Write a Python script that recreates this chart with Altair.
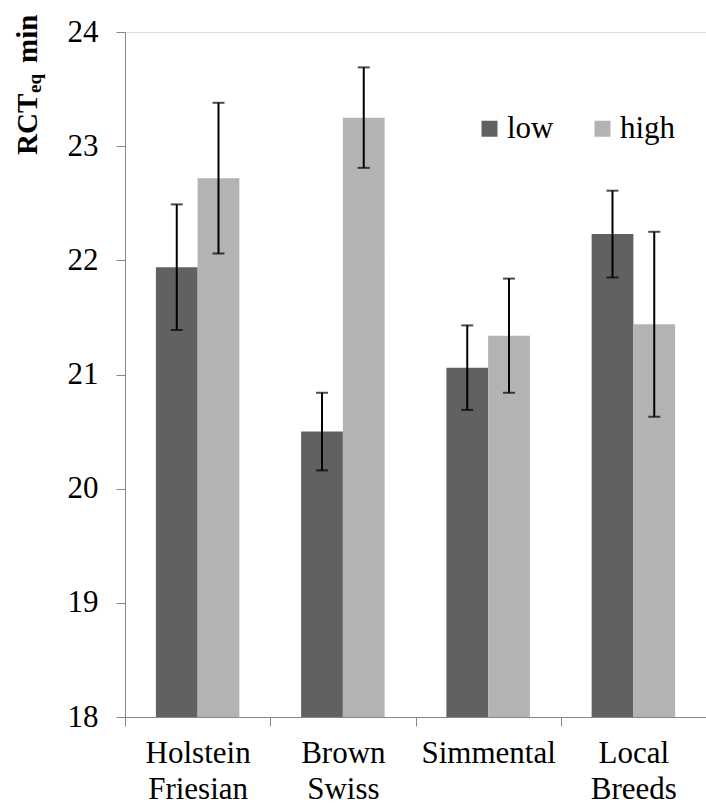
import altair as alt
import pandas as pd

breeds = ["Holstein Friesian", "Brown Swiss", "Simmental", "Local Breeds"]
groups = ["low", "high"]
low_mean = [21.94, 20.50, 21.06, 22.23]
low_lower = [21.39, 20.16, 20.69, 21.85]
low_upper = [22.49, 20.84, 21.43, 22.61]
high_mean = [22.72, 23.25, 21.34, 21.44]
high_lower = [22.06, 22.81, 20.84, 20.63]
high_upper = [23.38, 23.69, 21.84, 22.25]
y_ticks = [18, 19, 20, 21, 22, 23, 24]
colors = ["#616161", "#b3b3b3"]

rows = []
for i, b in enumerate(breeds):
    rows.append(dict(breed=b, group="low", mean=low_mean[i], lower=low_lower[i], upper=low_upper[i]))
    rows.append(dict(breed=b, group="high", mean=high_mean[i], lower=high_lower[i], upper=high_upper[i]))
df = pd.DataFrame(rows)

FONT = "Liberation Serif, DejaVu Serif"
AXIS_GRAY = "#878787"

x_axis = alt.Axis(
    title=None, labelAngle=0, labelExpr="split(datum.label, ' ')",
    labelFont=FONT, labelFontSize=31, labelColor="black", labelLineHeight=36,
    labelPadding=12, tickBand="extent", tickSize=9, tickColor=AXIS_GRAY,
    domainColor=AXIS_GRAY, labelLimit=300,
)
y_axis = alt.Axis(
    title=None, values=y_ticks, labelFont=FONT, labelFontSize=31, labelColor="black",
    labelPadding=18, tickSize=9, tickColor=AXIS_GRAY, domainColor=AXIS_GRAY, grid=False,
)

x_enc = alt.X("breed:N", sort=breeds, scale=alt.Scale(paddingInner=0, paddingOuter=0), axis=x_axis)
xo_enc = alt.XOffset("group:N", sort=groups,
                     scale=alt.Scale(domain=groups, paddingInner=0, paddingOuter=0.74))
y_scale = alt.Scale(domain=[18, 24], zero=False, nice=False)

base = alt.Chart(df)

bars = base.mark_bar().encode(
    x=x_enc,
    xOffset=xo_enc,
    y=alt.Y("mean:Q", scale=y_scale, axis=y_axis),
    y2=alt.datum(18),
    color=alt.Color(
        "group:N",
        scale=alt.Scale(domain=groups, range=colors),
        legend=alt.Legend(
            title=None, orient="none", legendX=349, legendY=81, direction="horizontal",
            columns=2, symbolType="square", symbolSize=256, symbolStrokeWidth=0,
            labelFont=FONT, labelFontSize=31, labelColor="black", labelOffset=2,
            columnPadding=33, padding=0,
        ),
    ),
)

rules = base.mark_rule(color="black", strokeWidth=2).encode(
    x=x_enc, xOffset=xo_enc,
    y=alt.Y("lower:Q", scale=y_scale, axis=y_axis),
    y2="upper:Q",
)
caps_low = base.mark_tick(color="black", size=12, thickness=2).encode(
    x=x_enc, xOffset=xo_enc,
    y=alt.Y("lower:Q", scale=y_scale, axis=y_axis),
)
caps_high = base.mark_tick(color="black", size=12, thickness=2).encode(
    x=x_enc, xOffset=xo_enc,
    y=alt.Y("upper:Q", scale=y_scale, axis=y_axis),
)

def title_part(txt, size, xpix, ypix):
    return alt.Chart(pd.DataFrame({"t": [txt]})).mark_text(
        angle=270, align="left", baseline="alphabetic", font=FONT,
        fontSize=size, fontWeight="bold", color="black",
    ).encode(text="t:N", x=alt.value(xpix), y=alt.value(ypix))

t_main = title_part("RCT", 29, -88, 123)
t_sub = title_part("eq", 19, -84, 61)
t_unit = title_part("min", 29, -88, 31)

chart = alt.layer(bars, rules, caps_low, caps_high, t_main, t_sub, t_unit).properties(
    width=581, height=685,
    autosize=alt.AutoSizeParams(type="none"),
    padding={"left": 125, "top": 32, "right": 0, "bottom": 92},
).configure_view(stroke=None).configure(font=FONT, background="white")

chart.save("out.html", embed_options={"renderer": "svg", "actions": False})
